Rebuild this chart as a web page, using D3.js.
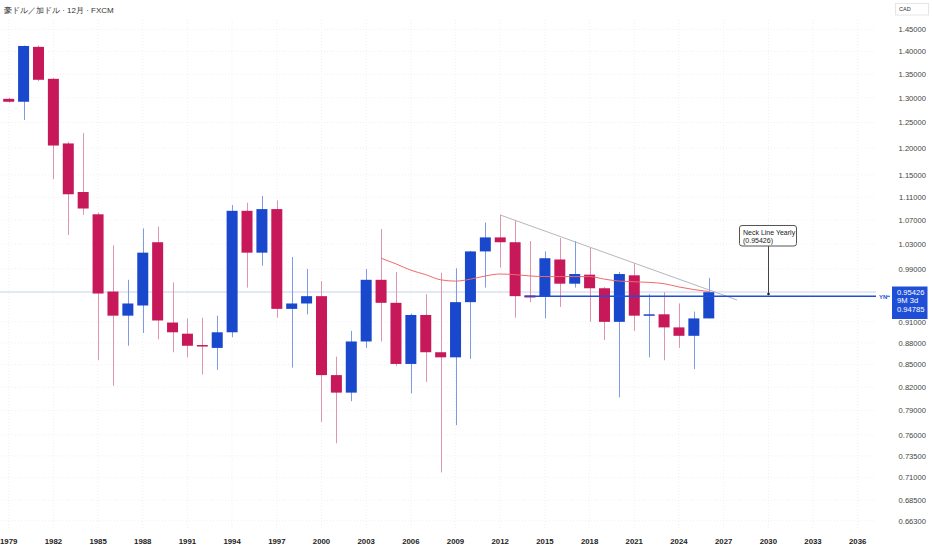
<!DOCTYPE html>
<html>
<head>
<meta charset="utf-8">
<script src="https://cdn.jsdelivr.net/npm/d3@7"></script>
<style>
  body { margin: 0; background: #fff; }
  svg { display: block; font-family: "Liberation Sans", Arial, sans-serif; }
</style>
</head>
<body>
<svg id="chart" width="932" height="550"></svg>
<script>
// yearly candles
const years  = [1979,1980,1981,1982,1983,1984,1985,1986,1987,1988,1989,1990,1991,1992,1993,1994,1995,1996,1997,1998,1999,2000,2001,2002,2003,2004,2005,2006,2007,2008,2009,2010,2011,2012,2013,2014,2015,2016,2017,2018,2019,2020,2021,2022,2023,2024,2025,2026];
const opens  = [1.298,1.292,1.410,1.340,1.209,1.119,1.080,0.955,0.919,0.934,1.033,0.909,0.893,0.877,0.873,0.895,1.086,1.016,1.089,0.929,0.937,0.948,0.836,0.813,0.882,0.973,0.938,0.851,0.920,0.867,0.860,0.939,1.018,1.041,1.033,0.949,0.947,1.005,0.967,0.981,0.960,0.910,0.980,0.919,0.921,0.902,0.890,0.915];
const highs  = [1.300,1.413,1.413,1.342,1.212,1.229,1.083,1.028,0.973,1.056,1.059,0.969,0.915,0.916,0.919,1.096,1.100,1.112,1.104,1.009,0.990,0.971,0.861,0.897,0.990,1.055,0.985,0.922,0.951,0.984,0.991,1.019,1.066,1.079,1.070,1.035,1.018,1.040,1.035,1.024,0.962,0.985,0.999,0.951,0.954,0.937,0.925,0.976];
const lows   = [1.290,1.255,1.335,1.142,1.045,1.079,0.856,0.822,0.876,0.894,0.885,0.867,0.860,0.837,0.843,0.888,0.961,0.995,0.916,0.846,0.921,0.776,0.750,0.802,0.873,0.882,0.848,0.812,0.827,0.716,0.772,0.858,0.961,0.992,0.916,0.939,0.915,0.932,0.961,0.910,0.884,0.807,0.897,0.860,0.856,0.873,0.844,0.915];
const closes = [1.292,1.412,1.338,1.205,1.115,1.090,0.952,0.919,0.937,1.016,0.912,0.895,0.876,0.876,0.895,1.086,1.016,1.089,0.929,0.937,0.948,0.836,0.813,0.882,0.973,0.938,0.851,0.920,0.867,0.860,0.939,1.018,1.041,1.033,0.948,0.946,1.007,0.967,0.982,0.960,0.910,0.982,0.919,0.921,0.902,0.890,0.915,0.954];

// red moving average line
const maYears  = [2004,2005,2006,2007,2008,2009,2010,2011,2012,2013,2014,2015,2016,2017,2018,2019,2020,2021,2022,2023,2024,2025,2026];
const maValues = [1.007,0.998,0.988,0.981,0.973,0.971,0.974,0.979,0.982,0.981,0.979,0.978,0.978,0.978,0.978,0.974,0.971,0.970,0.969,0.967,0.962,0.958,0.955];

// falling trend line from the 2012 high
const trendYears  = [2012, 2027.9];
const trendValues = [1.0788, 0.9422];

const neckValue = 0.95426;
const lastClose = 0.95426;
const ynValue = 0.94785;
const ynStartYear = 2014;

const priceTicks = [1.45,1.40,1.35,1.30,1.25,1.20,1.15,1.11,1.07,1.03,0.99,0.91,0.88,0.85,0.82,0.79,0.76,0.735,0.71,0.685,0.663];
const yearTicks = d3.range(1979, 2037, 3);

const title = "豪ドル／加ドル · 12月 · FXCM";

const svg = d3.select("#chart");
const plotRight = 876;

const x = d3.scaleLinear().domain([1979, 2036]).range([8.7, 857.7]);
const y = d3.scaleLog().domain([0.663, 1.45]).range([520.7, 29.3]);

const upColor = "#1a48cc", downColor = "#c7185a";
const upWick = "#7f9be6", downWick = "#df95ae";

const candles = years.map((yr, i) => ({
    year: yr, open: opens[i], high: highs[i], low: lows[i], close: closes[i]
}));

// faint grid
const grid = svg.append("g").attr("stroke", "#f0f0f4").attr("stroke-dasharray", "1,2");
grid.selectAll(".hg").data(priceTicks).enter().append("line")
    .attr("x1", 0).attr("x2", plotRight)
    .attr("y1", d => y(d)).attr("y2", d => y(d));
grid.selectAll(".vg").data(yearTicks).enter().append("line")
    .attr("x1", d => x(d)).attr("x2", d => x(d))
    .attr("y1", 20).attr("y2", 530);

// neck line (price line)
svg.append("line")
    .attr("x1", 0).attr("x2", plotRight)
    .attr("y1", y(neckValue)).attr("y2", y(neckValue))
    .attr("stroke", "#c9cfec").attr("stroke-width", 1);

// candles
const bw = 11;
const cg = svg.append("g");
cg.selectAll(".wick").data(candles).enter().append("line")
    .attr("x1", d => Math.round(x(d.year)) + 0.5)
    .attr("x2", d => Math.round(x(d.year)) + 0.5)
    .attr("y1", d => y(d.high)).attr("y2", d => y(d.low))
    .attr("stroke", d => d.close >= d.open ? upWick : downWick)
    .attr("stroke-width", 1);
cg.selectAll(".body").data(candles).enter().append("rect")
    .attr("x", d => x(d.year) - bw / 2)
    .attr("width", bw)
    .attr("y", d => y(Math.max(d.open, d.close)))
    .attr("height", d => Math.max(1.5, Math.abs(y(d.open) - y(d.close))))
    .attr("fill", d => d.close >= d.open ? upColor : downColor);

// moving average
svg.append("path")
    .datum(maYears.map((yr, i) => [yr, maValues[i]]))
    .attr("fill", "none")
    .attr("stroke", "#ef6a6a")
    .attr("stroke-width", 1)
    .attr("d", d3.line().x(d => x(d[0])).y(d => y(d[1])).curve(d3.curveMonotoneX));

// trend line
svg.append("path")
    .datum(trendYears.map((yr, i) => [yr, trendValues[i]]))
    .attr("fill", "none")
    .attr("stroke", "#b5b5c0")
    .attr("stroke-width", 1)
    .attr("d", d3.line().x(d => x(d[0])).y(d => y(d[1])));

// YN horizontal line
svg.append("line")
    .attr("x1", x(ynStartYear) - bw / 2).attr("x2", plotRight)
    .attr("y1", y(ynValue)).attr("y2", y(ynValue))
    .attr("stroke", "#1f4fd6").attr("stroke-width", 1.4);
svg.append("text")
    .attr("x", 879).attr("y", y(ynValue) + 2.3)
    .attr("font-size", 6).attr("font-weight", "bold")
    .attr("fill", "#1f4fd6").text("YN");
svg.append("line")
    .attr("x1", 887).attr("x2", 890)
    .attr("y1", y(ynValue)).attr("y2", y(ynValue))
    .attr("stroke", "#1f4fd6");

// callout
const cx = Math.round(x(2030)) + 0.5;
svg.append("line")
    .attr("x1", cx).attr("x2", cx)
    .attr("y1", 246).attr("y2", y(neckValue) + 2)
    .attr("stroke", "#444").attr("stroke-width", 1);
svg.append("circle").attr("cx", cx).attr("cy", y(neckValue) + 2).attr("r", 1.3).attr("fill", "#222");
svg.append("rect")
    .attr("x", 739.5).attr("y", 225.5).attr("width", 57).attr("height", 20.5)
    .attr("rx", 2.5).attr("fill", "#fff").attr("stroke", "#555");
svg.append("text").attr("x", 743).attr("y", 234.5)
    .attr("font-size", 7).attr("fill", "#222").text("Neck Line Yearly");
svg.append("text").attr("x", 743).attr("y", 242.5)
    .attr("font-size", 7).attr("fill", "#222").text(`(${neckValue.toFixed(5)})`);

// title
svg.append("text").attr("x", 4).attr("y", 13)
    .attr("font-size", 8).attr("fill", "#333").text(title);

// price axis
svg.append("g").selectAll("text").data(priceTicks).enter().append("text")
    .attr("x", 926).attr("y", d => y(d) + 2.8)
    .attr("text-anchor", "end")
    .attr("font-size", 7.6).attr("fill", "#444")
    .text(d => d.toFixed(5));

// current price box
svg.append("rect")
    .attr("x", 892).attr("y", 286.5).attr("width", 35.5).attr("height", 32.5)
    .attr("fill", "#1f4fd6");
const boxLines = [lastClose.toFixed(5), "9M 3d", ynValue.toFixed(5)];
svg.append("g").selectAll("text").data(boxLines).enter().append("text")
    .attr("x", 897).attr("y", (d, i) => 294.5 + i * 8.7)
    .attr("font-size", 7.6).attr("fill", "#fff")
    .text(d => d);

// CAD box
svg.append("rect").attr("x", 895.5).attr("y", 3.5).attr("width", 33).attr("height", 11.5)
    .attr("fill", "#fff").attr("stroke", "#e6e6ea");
svg.append("text").attr("x", 899).attr("y", 11.3)
    .attr("font-size", 5.5).attr("fill", "#333").text("CAD");

// year axis
svg.append("g").selectAll("text").data(yearTicks).enter().append("text")
    .attr("x", d => x(d)).attr("y", 543.5)
    .attr("text-anchor", "middle")
    .attr("font-size", 7.8).attr("font-weight", "bold").attr("fill", "#222")
    .text(d => d);
</script>
</body>
</html>
